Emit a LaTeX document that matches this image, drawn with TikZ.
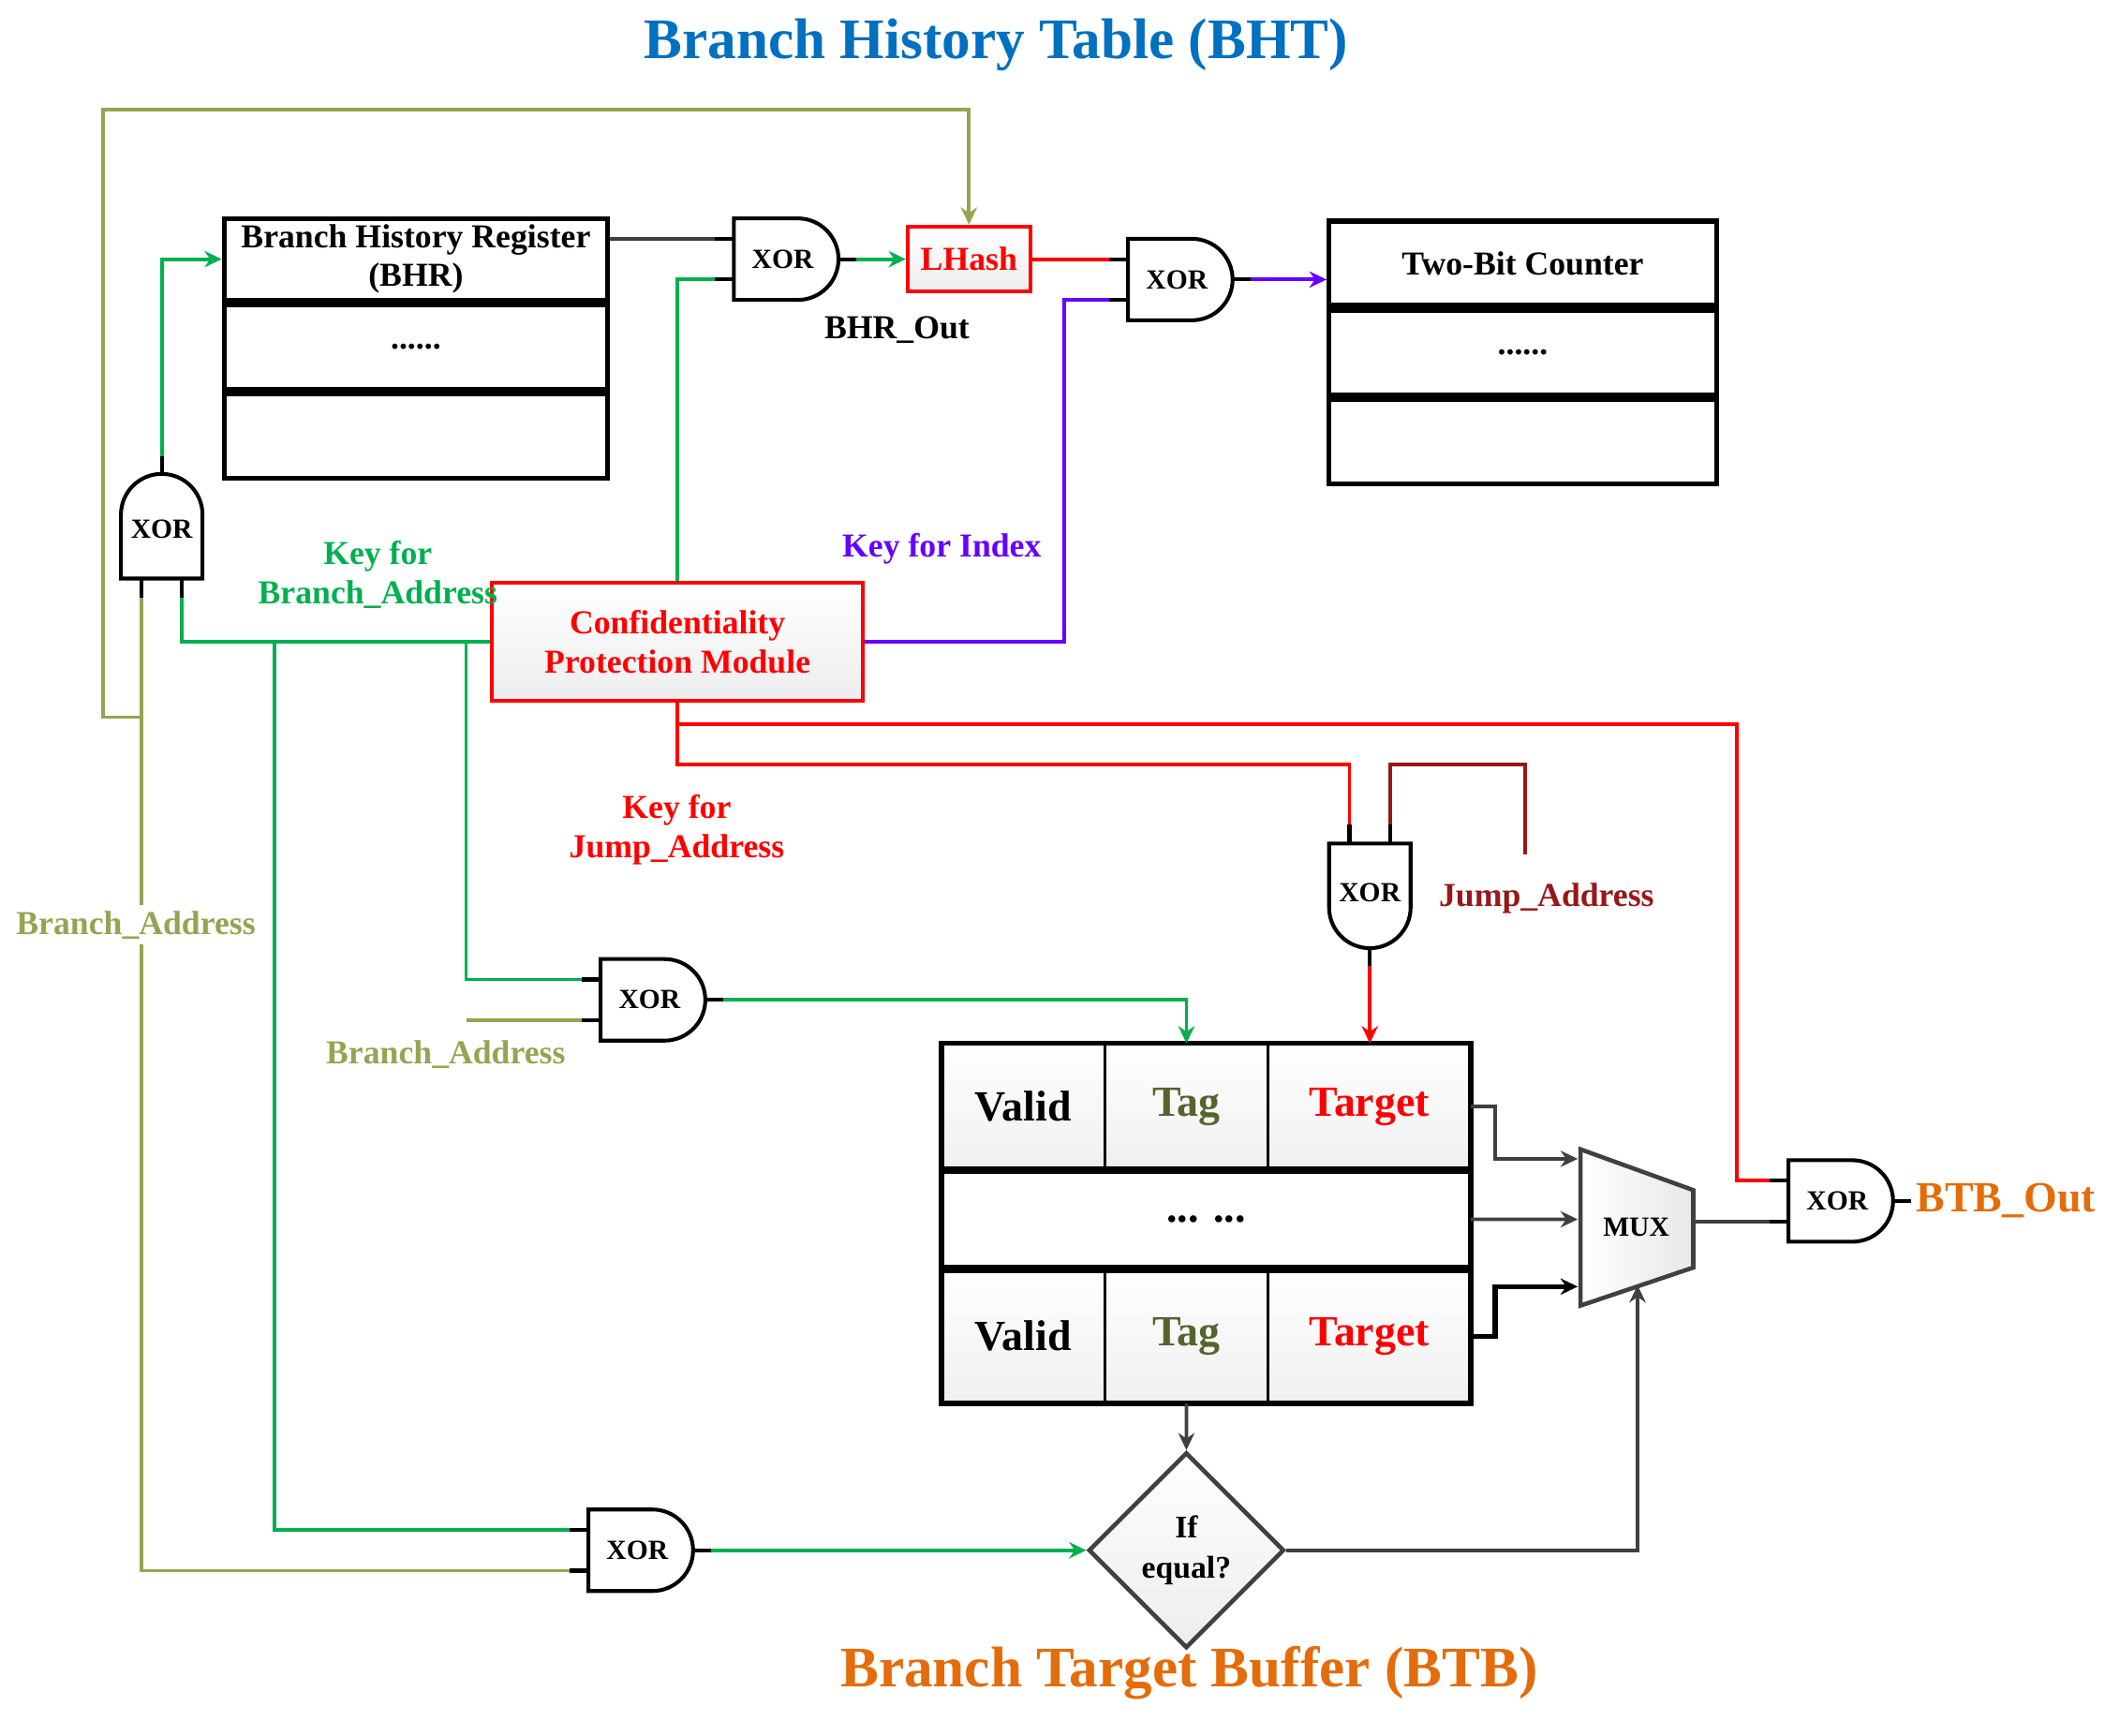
\documentclass[tikz,border=0pt]{standalone}
\usepackage{fontspec}
\setmainfont{Liberation Serif}
\usetikzlibrary{arrows.meta,calc,positioning,shapes.geometric}

\definecolor{bhtblue}{RGB}{0,112,192}
\definecolor{keygreen}{RGB}{0,176,80}
\definecolor{addrolive}{RGB}{150,164,82}
\definecolor{idxpurple}{RGB}{102,0,255}
\definecolor{jmpred}{RGB}{150,24,24}
\definecolor{btborange}{RGB}{228,108,10}
\definecolor{tagolive}{RGB}{85,100,45}
\definecolor{wiregray}{RGB}{64,64,64}

% gate: name, back centre, rotation
\newcommand{\xorgate}[3]{%
  \begin{scope}[shift={(#2)},rotate=#3]
    \draw[gate] (0,-30) -- (0,30) -- (47,30) arc (90:-90:30) -- cycle;
    \draw[stub] (0,15) -- (-14,15) coordinate (#1a);
    \draw[stub] (0,-15) -- (-14,-15) coordinate (#1b);
    \draw[stub] (77,0) -- (90,0) coordinate (#1o);
    \node[gatelbl] (#1) at (36,0) {XOR};
  \end{scope}}

\tikzset{
  gate/.style={draw=black,line width=0.8pt,fill=white},
  stub/.style={draw=black,line width=0.8pt},
  gatelbl/.style={font=\fontsize{5.8}{7}\selectfont\bfseries,inner sep=0pt},
  lbl/.style={font=\fontsize{7}{8.2}\selectfont\bfseries,align=center,inner sep=1pt},
  regrow/.style={draw=black,line width=1pt,fill=white,minimum width=2.82cm,minimum height=0.62cm,font=\fontsize{7}{8}\selectfont\bfseries,align=center,inner sep=0pt},
  keybox/.style={draw=red,line width=0.8pt,top color=white,bottom color=gray!14,text=red,font=\fontsize{7}{8.3}\selectfont\bfseries,align=center,inner sep=0pt},
  cell/.style={draw=black,line width=0.6pt,top color=white,bottom color=gray!12,minimum width=1.2cm,minimum height=0.93cm,font=\fontsize{9}{10}\selectfont\bfseries,inner sep=0pt,outer sep=0pt},
  decision/.style={diamond,draw=wiregray,line width=0.9pt,top color=white,bottom color=gray!14,minimum width=1.44cm,minimum height=1.44cm,inner sep=0pt,align=center,font=\fontsize{6.6}{8.5}\selectfont\bfseries},
  wire/.style={line width=0.75pt},
  grnwire/.style={wire,draw=keygreen},
  olvwire/.style={wire,draw=addrolive},
  redwire/.style={wire,draw=red},
  purwire/.style={wire,draw=idxpurple},
  jmpwire/.style={wire,draw=jmpred},
  graywire/.style={wire,draw=wiregray},
  blkwire/.style={line width=1.1pt,draw=black}
}

\begin{document}
\begin{tikzpicture}[x=0.01cm,y=0.01cm,>={Stealth[length=3.6pt,width=3.4pt]}]
  \useasboundingbox (0,0) rectangle (1560,1276.7);

  % titles
  \node[font=\fontsize{12}{14}\selectfont\bfseries,text=bhtblue] (bhttitle) at (733,1244) {Branch History Table (BHT)};
  \node[font=\fontsize{12}{14}\selectfont\bfseries,text=btborange] (btbtitle) at (875,46) {Branch Target Buffer (BTB)};

  % history register and counter table
  \node[regrow,minimum height=0.6cm] (bhr1) at (306,1086) {Branch History Register\\(BHR)};
  \node[regrow,below=0pt of bhr1] (bhr2) {......};
  \node[regrow,below=0pt of bhr2] (bhr3) {};
  \node[regrow,minimum width=2.85cm] (tbc1) at (1120.5,1083) {Two-Bit Counter};
  \node[regrow,minimum width=2.85cm,below=0pt of tbc1] (tbc2) {......};
  \node[regrow,minimum width=2.85cm,below=0pt of tbc2] (tbc3) {};

  % key blocks
  \node[keybox,minimum width=0.9cm,minimum height=0.48cm] (lhash) at (713,1086) {LHash};
  \node[keybox,minimum width=2.73cm,minimum height=0.87cm] (cpm) at (498.5,804.5) {Confidentiality\\Protection Module};

  % BTB entries
  \node[cell] (valid1) at (753,462.5) {Valid};
  \node[cell,right=0pt of valid1,text=tagolive] (tag1) {Tag};
  \node[cell,right=0pt of tag1,minimum width=1.49cm,text=red] (target1) {Target};
  \node[cell,below=0pt of valid1.south west,anchor=north west,minimum width=3.89cm,minimum height=0.73cm,top color=white,bottom color=white] (rowdots) {... ...};
  \node[cell,below=0pt of rowdots.south west,anchor=north west,minimum height=0.99cm] (valid3) {Valid};
  \node[cell,right=0pt of valid3,minimum height=0.99cm,text=tagolive] (tag3) {Tag};
  \node[cell,right=0pt of tag3,minimum width=1.49cm,minimum height=0.99cm,text=red] (target3) {Target};
  \draw[line width=1.1pt] (valid1.north west) rectangle (target3.south east);
  \draw[line width=1.6pt] (valid1.south west) -- (target1.south east) (rowdots.south west) -- (rowdots.south east);

  % gates
  \xorgate{gleft}{119,851}{90}
  \xorgate{gbhr}{540,1086}{0}
  \xorgate{glh}{830,1071}{0}
  \xorgate{gmid}{442,541}{0}
  \xorgate{gbot}{433,136}{0}
  \xorgate{gjmp}{1008,656}{-90}
  \xorgate{gbtb}{1316,393}{0}

  % mux
  \draw[line width=0.9pt,draw=wiregray,left color=white,right color=gray!18] (1163,431) -- (1246,401) -- (1246,344) -- (1163,316) -- cycle;
  \node[gatelbl] (mux) at (1204,374) {MUX};
  \coordinate (muxin1) at (1161,424);
  \coordinate (muxin2) at (1161,379.5);
  \coordinate (muxin3) at (1161,330);
  \coordinate (muxsel) at (1205,331);
  \coordinate (muxout) at (1246,378);

  \node[decision] (ifeq) at (873,136) {If\\equal?};

  % labels
  \node[lbl,text=keygreen] (kbalbl) at (278,854) {Key for\\Branch\_Address};
  \node[lbl,text=idxpurple] (kilbl) at (693,873) {Key for Index};
  \node[lbl] (bhroutlbl) at (660,1034) {BHR\_Out};
  \node[lbl,text=red] (kjlbl) at (498,666) {Key for\\Jump\_Address};
  \node[lbl,text=jmpred] (jalbl) at (1138,616) {Jump\_Address};
  \node[lbl,text=addrolive] (baleft) at (100,596) {Branch\_Address};
  \node[lbl,text=addrolive] (bamid) at (328,501) {Branch\_Address};
  \node[lbl,text=btborange,font=\fontsize{9}{10}\selectfont\bfseries,right=0pt of gbtbo] (btbout) {BTB\_Out};

  % Branch_Address wires
  \coordinate (olvjoin) at (104,749);
  \coordinate (olvtop) at (76,1196);
  \draw[olvwire] (baleft.north -| glefta) -- (glefta);
  \draw[olvwire,->] (olvjoin) -| (olvtop) -| (lhash.north);
  \draw[olvwire] (baleft.south -| glefta) |- (gbotb);
  \coordinate (bamidend) at (343,526);
  \draw[olvwire] (bamidend) -- (gmidb);

  % key for branch address
  \coordinate (kbj1) at (202,804.5);
  \coordinate (kbj2) at (343,804.5);
  \draw[grnwire] (cpm.west) -| (gleftb);
  \draw[grnwire] (kbj1) |- (gbota);
  \draw[grnwire] (kbj2) |- (gmida);
  \draw[grnwire,->] (glefto) |- (bhr1.west);
  \draw[grnwire] (cpm.north) |- (gbhrb);
  \draw[graywire] (gbhra -| bhr1.east) -- (gbhra);
  \draw[grnwire,->] (gbhro) -- (lhash.west);
  \draw[redwire] (lhash.east) -- (glha);
  \draw[grnwire,->] (gmido) -| (tag1.north);

  % key for index
  \coordinate (kibend) at (783,1056);
  \draw[purwire] (cpm.east) -| (kibend) -- (glhb);
  \draw[purwire,->] (glho) -- (glho -| tbc1.west);

  % key for jump address
  \coordinate (kjbend) at (1278,744);
  \coordinate (kjjoin) at (993,714);
  \coordinate (jaend) at (1122,648);
  \draw[redwire] (cpm.south) |- (kjbend) |- (gbtba);
  \draw[redwire] (cpm.south) |- (kjjoin) -- (gjmpb);
  \draw[jmpwire] (jaend) |- (gjmpa |- kjjoin) -- (gjmpa);
  \draw[redwire,->] (gjmpo) -- (gjmpo |- target1.north);

  % btb read out
  \draw[graywire,->] (target1.east) -- ++(18,0) |- (muxin1);
  \draw[graywire,->] (rowdots.east) -- (muxin2);
  \draw[blkwire,->] (target3.east) -- ++(18,0) |- (muxin3);
  \draw[graywire] (muxout) -- (gbtbb);
  \draw[graywire,->] (tag3.south) -- (ifeq.north);
  \draw[graywire,->] (ifeq.east) -| (muxsel);
  \draw[grnwire,->] (gboto) -- (ifeq.west);
\end{tikzpicture}
\end{document}
